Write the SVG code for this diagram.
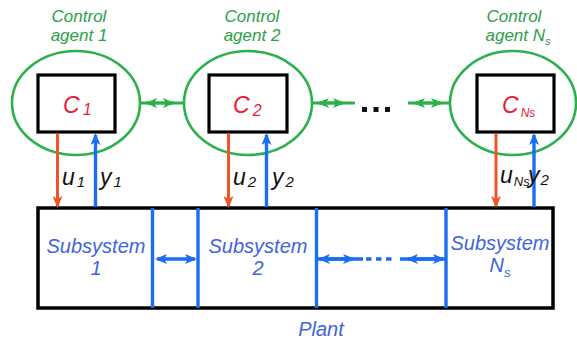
<svg xmlns="http://www.w3.org/2000/svg" width="577" height="341" viewBox="0 0 577 341">
<style>
.agent{fill:none;stroke:#2bb04a;stroke-width:2.6}
.box{fill:#fff;stroke:#000;stroke-width:3.2}
.gl{stroke:#2bb04a;stroke-width:3;fill:none}
.bl{stroke:#1a6ef0;stroke-width:3.4;fill:none}
.rl{stroke:#f0552a;stroke-width:3;fill:none}
.agtxt{font-family:"Liberation Sans",Arial,sans-serif;font-style:italic;font-size:17px;fill:#2a9e48;text-anchor:middle}
.ctxt{font-family:"Liberation Sans",Arial,sans-serif;font-style:italic;font-size:23px;fill:#e8203a}
.lbl{font-family:"Liberation Sans",Arial,sans-serif;font-style:italic;font-size:23px;fill:#111}
.sub{font-family:"Liberation Sans",Arial,sans-serif;font-style:italic;font-size:20px;fill:#3f64de;text-anchor:middle}
</style>
<defs>
<marker id="ag" viewBox="0 0 12 10" refX="10" refY="5" markerWidth="12" markerHeight="10" markerUnits="userSpaceOnUse" orient="auto-start-reverse"><path d="M0,0 L12,5 L0,10 L3,5 z" fill="#2bb04a"/></marker>
<marker id="ab" viewBox="0 0 12 10" refX="10" refY="5" markerWidth="12" markerHeight="10" markerUnits="userSpaceOnUse" orient="auto-start-reverse"><path d="M0,0 L12,5 L0,10 L3,5 z" fill="#1a6ef0"/></marker>
<marker id="ar" viewBox="0 0 12 10" refX="10" refY="5" markerWidth="12" markerHeight="10" markerUnits="userSpaceOnUse" orient="auto"><path d="M0,0 L12,5 L0,10 L3,5 z" fill="#f0552a"/></marker>
</defs>
<rect width="577" height="341" fill="#fff"/>

<g id="plant">
<rect x="38" y="208" width="515" height="100" fill="#fff" stroke="#000" stroke-width="3.5"/>
<line class="bl" x1="152.5" y1="208" x2="152.5" y2="308"/>
<line class="bl" x1="198" y1="208" x2="198" y2="308"/>
<line class="bl" x1="316.5" y1="208" x2="316.5" y2="308"/>
<line class="bl" x1="446" y1="208" x2="446" y2="308"/>
<text class="sub" x="321" y="336" font-size="22">Plant</text>
</g>

<g id="subsystem1">
<text class="sub" x="96" y="253">Subsystem</text>
<text class="sub" x="96" y="275">1</text>
</g>
<g id="subsystem2">
<text class="sub" x="258" y="253">Subsystem</text>
<text class="sub" x="258" y="275">2</text>
</g>
<g id="subsystemNs">
<text class="sub" x="500" y="250">Subsystem</text>
<text class="sub" x="500" y="272">N<tspan font-size="13" dy="5">s</tspan></text>
</g>

<g id="agent1">
<ellipse class="agent" cx="76" cy="103" rx="64" ry="52"/>
<text class="agtxt" x="79" y="22">Control</text>
<text class="agtxt" x="79" y="41">agent 1</text>
<rect class="box" x="38" y="75" width="77" height="57"/>
<text class="ctxt" x="63" y="113">C<tspan font-size="16" dx="3" dy="2">1</tspan></text>
</g>
<g id="agent2">
<ellipse class="agent" cx="248" cy="103" rx="64" ry="52"/>
<text class="agtxt" x="252" y="22">Control</text>
<text class="agtxt" x="252" y="41">agent 2</text>
<rect class="box" x="209" y="75" width="78" height="57"/>
<text class="ctxt" x="233" y="113">C<tspan font-size="16" dx="3" dy="3">2</tspan></text>
</g>
<g id="agentNs">
<ellipse class="agent" cx="513" cy="103" rx="63" ry="52"/>
<text class="agtxt" x="514" y="22">Control</text>
<text class="agtxt" x="518" y="41">agent N<tspan font-size="11" dy="4">s</tspan></text>
<rect class="box" x="477" y="75" width="77" height="57"/>
<text class="ctxt" x="502" y="113">C<tspan font-size="12" dx="2" dy="4">Ns</tspan></text>
</g>

<g id="connectors">
<line class="gl" x1="140" y1="103" x2="184" y2="103"/>
<path class="gl" d="M147,103 H173" marker-start="url(#ag)" marker-end="url(#ag)"/>
<line class="gl" x1="312" y1="103" x2="355" y2="103"/>
<path class="gl" d="M319,103 H343" marker-start="url(#ag)" marker-end="url(#ag)"/>
<line class="gl" x1="408" y1="103" x2="450" y2="103"/>
<path class="gl" d="M415,103 H441" marker-start="url(#ag)" marker-end="url(#ag)"/>
<g fill="#111">
<rect x="362" y="107" width="5" height="5"/>
<rect x="373.5" y="107" width="5" height="5"/>
<rect x="385" y="107" width="5" height="5"/>
</g>
<path class="bl" d="M157,259 H195" marker-start="url(#ab)" marker-end="url(#ab)"/>
<line class="bl" x1="317" y1="259" x2="363" y2="259"/>
<path class="bl" d="M320,259 H353" marker-start="url(#ab)" marker-end="url(#ab)"/>
<line class="bl" x1="366" y1="259" x2="392" y2="259" stroke-dasharray="5.5 4.5"/>
<line class="bl" x1="400" y1="259" x2="446" y2="259"/>
<path class="bl" d="M408,259 H443" marker-start="url(#ab)" marker-end="url(#ab)"/>
<path class="rl" d="M57.5,133.5 V206" marker-end="url(#ar)"/>
<path class="rl" d="M228.5,133.5 V206" marker-end="url(#ar)"/>
<path class="rl" d="M496,133.5 V206" marker-end="url(#ar)"/>
<path class="bl" d="M95.5,207 V135" marker-end="url(#ab)" stroke-width="3"/>
<path class="bl" d="M266.5,207 V135" marker-end="url(#ab)" stroke-width="3"/>
<path class="bl" d="M534,207 V135" marker-end="url(#ab)" stroke-width="3"/>
<text class="lbl" x="62" y="185">u<tspan font-size="15" dx="2" dy="2">1</tspan></text>
<text class="lbl" x="100" y="185">y<tspan font-size="15" dx="2" dy="2">1</tspan></text>
<text class="lbl" x="233" y="185">u<tspan font-size="15" dx="2" dy="2">2</tspan></text>
<text class="lbl" x="272" y="185">y<tspan font-size="15" dx="2" dy="2">2</tspan></text>
<text class="lbl" x="500" y="183">u<tspan font-size="13" dx="1" dy="3">Ns</tspan></text>
<text class="lbl" x="528" y="183">y<tspan font-size="15" dx="1" dy="2">2</tspan></text>
</g>
</svg>
